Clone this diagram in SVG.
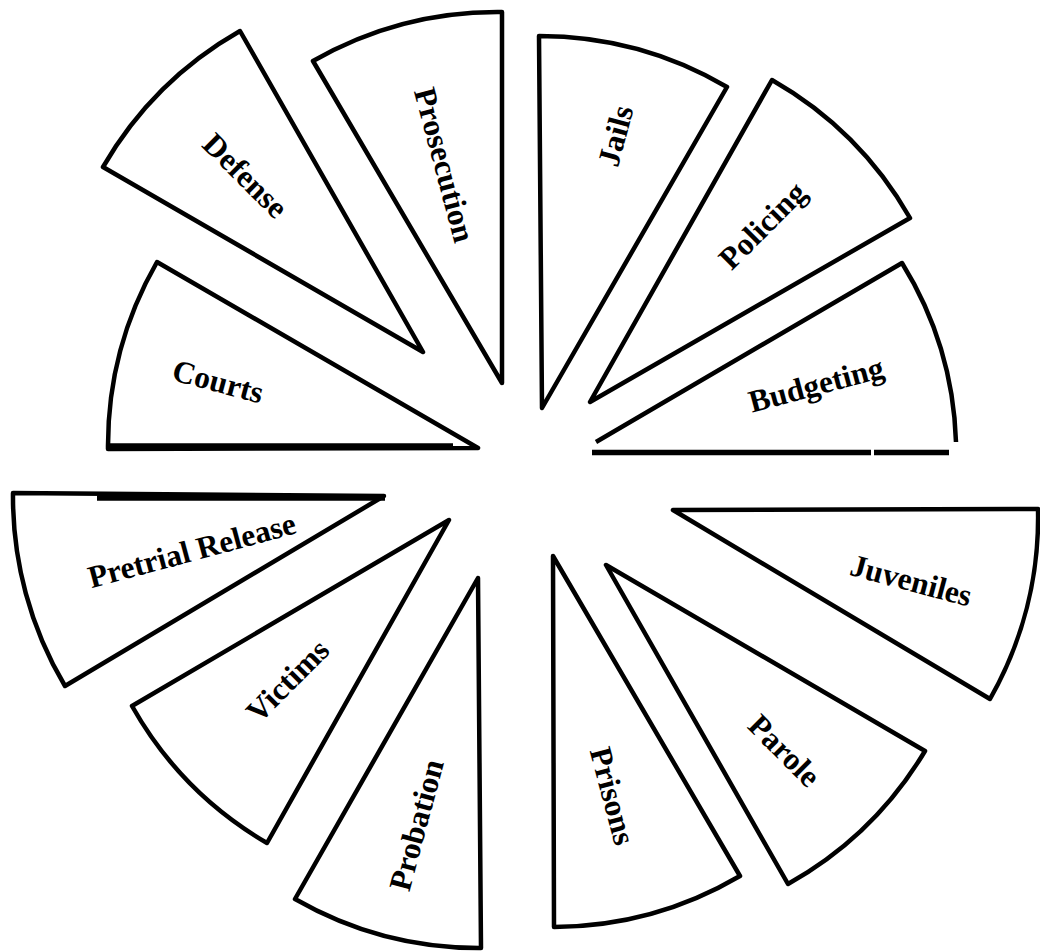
<svg xmlns="http://www.w3.org/2000/svg" width="1040" height="952" viewBox="0 0 1040 952">
<style>
.w{fill:#fff;stroke:#000;stroke-width:4.5;stroke-linejoin:round}
.o{fill:none;stroke:#000;stroke-width:4.5;stroke-linejoin:round}
.bar{stroke:#000;stroke-width:5.5;fill:none}
.t{font-family:"Liberation Serif","Times New Roman",serif;font-weight:bold;font-size:31.5px;fill:#000;text-anchor:middle}
</style>
<rect width="1040" height="952" fill="#fff"/>
<g id="courts"><path class="w" d="M478,448 L108,449 A370,370 0 0 1 157,262 Z"/><path class="bar" d="M110,446 H453"/><text class="t" transform="translate(218,382) rotate(15)" y="10">Courts</text></g>
<g id="defense"><path class="w" d="M423,352 L103,167 A370,370 0 0 1 240,31 Z"/><text class="t" transform="translate(245,176) rotate(45)" y="10">Defense</text></g>
<g id="prosecution"><path class="w" d="M502,383 L313,61 A372,372 0 0 1 502,12 Z"/><text class="t" transform="translate(444,165) rotate(75)" y="10">Prosecution</text></g>
<g id="jails"><path class="w" d="M542,408 L539,36 A372,372 0 0 1 727,87 Z"/><text class="t" transform="translate(616,136) rotate(-75)" y="10">Jails</text></g>
<g id="policing"><path class="w" d="M590,402 L772,80 A370,370 0 0 1 910,218 Z"/><text class="t" transform="translate(765,228) rotate(-45)" y="7">Policing</text></g>
<g id="budgeting"><path class="w" style="stroke:none" d="M596,442 L902,263 A362,362 0 0 1 956,442 Z"/><path class="o" d="M596,442 L902,263 A362,362 0 0 1 956,442"/><path class="bar" d="M592,452.5 H871 M874,452.5 H949"/><text class="t" transform="translate(817,388) rotate(-15)" y="7">Budgeting</text></g>
<g id="juveniles"><path class="w" d="M673,510 L1038,509 A368,368 0 0 1 990,699 Z"/><text class="t" transform="translate(911,581) rotate(15)" y="10">Juveniles</text></g>
<g id="parole"><path class="w" d="M606,565 L925,751 A370,370 0 0 1 788,884 Z"/><text class="t" transform="translate(784,751) rotate(45)" y="10">Parole</text></g>
<g id="prisons"><path class="w" d="M553,556 L740,876 A371,371 0 0 1 554,927 Z"/><text class="t" transform="translate(612,796) rotate(75)" y="10">Prisons</text></g>
<g id="probation"><path class="w" d="M478,578 L481,948 A370,370 0 0 1 295,899 Z"/><text class="t" transform="translate(417,825) rotate(-75)" y="10">Probation</text></g>
<g id="victims"><path class="w" d="M449,520 L267,843 A368,368 0 0 1 132,706 Z"/><text class="t" transform="translate(288,681) rotate(-45)" y="10">Victims</text></g>
<g id="pretrial-release"><path class="w" d="M384,496 L65,686 A370,370 0 0 1 13,493 Z"/><path class="bar" d="M97,498 H385"/><text class="t" transform="translate(192,551) rotate(-15)" y="10">Pretrial Release</text></g>
<g id="connectors"/>
</svg>
